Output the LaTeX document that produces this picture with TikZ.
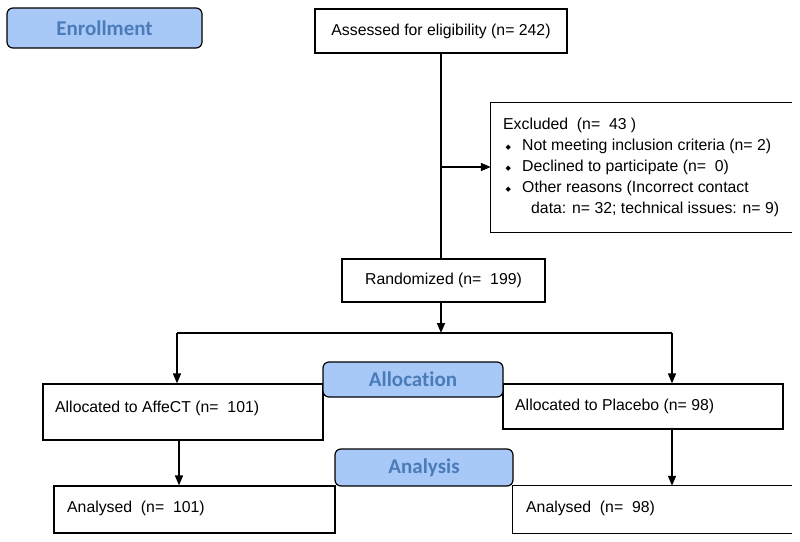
\documentclass[tikz,border=0pt]{standalone}
\usepackage{fontspec}
\setmainfont{Liberation Sans}
\newfontfamily\hdrfont[Ligatures=NoCommon]{Carlito}
\newfontfamily\symfont{DejaVu Sans}
\usetikzlibrary{arrows.meta}
\definecolor{hdrfill}{RGB}{168,200,248}
\definecolor{hdrtext}{RGB}{74,124,186}
\newcommand{\bul}{\hspace*{1pt}\makebox[8pt]{\raisebox{1pt}{\symfont\fontsize{7}{7}\selectfont ◆}}\hspace*{10pt}}
\begin{document}
\begin{tikzpicture}[x=1pt,y=-1pt,
  box/.style={draw, line width=1.2pt, inner sep=0pt, font=\fontsize{15.8}{19}\selectfont},
  openbox/.style={draw=none, inner sep=0pt},
  txt/.style={inner sep=0pt, anchor=west, font=\fontsize{15.8}{19}\selectfont},
  hdr/.style={draw, line width=1.2pt, rounded corners=6pt, fill=hdrfill, text=hdrtext, inner sep=0pt,
    font=\hdrfont\bfseries\fontsize{21}{24}\selectfont},
  conn/.style={line width=1.6pt},
  arr/.style={line width=1.6pt, -{Triangle[length=10pt,width=8pt]}}]
\useasboundingbox (0,0) rectangle (800,541);

% boxes
\node[box, minimum width=252pt, minimum height=44pt] (assess) at (441,31) {Assessed for eligibility (n= 242)};
\node[openbox, minimum width=301pt, minimum height=129pt] (exc) at (641.5,167.5) {};
\draw[line width=1.2pt] (exc.north east) -- (exc.north west) -- (exc.south west) -- (exc.south east);
\node[txt, align=left, font=\fontsize{15.8}{21}\selectfont] (exctxt) at (503,167) {Excluded\ \ (n=\ \ 43 )\\
\bul Not meeting inclusion criteria (n= 2)\\
\bul Declined to participate (n=\ \ 0)\\
\bul Other reasons (Incorrect contact\\
\hspace*{28pt}data: n= 32; technical issues: n= 9)};

\node[box, minimum width=203pt, minimum height=43pt] (rand) at (443.5,280.5) {Randomized (n=\ \ 199)};

\node[box, minimum width=280pt, minimum height=56pt] (aff) at (183,412) {};
\node[txt] (afftxt) at (55,408) {Allocated to AffeCT (n=\ \ 101)};
\node[box, minimum width=280pt, minimum height=45pt] (plc) at (643,406.5) {};
\node[txt] (plctxt) at (515,406) {Allocated to Placebo (n= 98)};

\node[box, minimum width=281pt, minimum height=47pt] (an1) at (194.5,509.5) {};
\node[txt] (an1txt) at (67,508) {Analysed\ \ (n=\ \ 101)};
\node[openbox, minimum width=279pt, minimum height=47pt] (an2) at (652.5,509.5) {};
\draw[line width=1.2pt] (an2.north east) -- (an2.north west) -- (an2.south west) -- (an2.south east);
\node[txt] (an2txt) at (526,508) {Analysed\ \ (n=\ \ 98)};

% connectors
\coordinate (j1) at (441,167);
\draw[conn] (assess.south) -- (assess.south |- rand.north);
\draw[arr] (j1) -- (j1 -| exc.west);
\coordinate (split) at (441,333);
\coordinate (L) at (177,333);
\coordinate (R) at (672,333);
\draw[arr] (rand.south -| split) -- (split);
\draw[conn] (L) -- (R);
\draw[arr] (L) -- (L |- aff.north);
\draw[arr] (R) -- (R |- plc.north);
\coordinate (a1) at (179,440);
\coordinate (a2) at (672,429);
\draw[arr] (a1) -- (a1 |- an1.north);
\draw[arr] (a2) -- (a2 |- an2.north);

% headers
\node[hdr, minimum width=195pt, minimum height=40pt] (enr) at (104.5,28) {Enrollment};
\node[hdr, minimum width=180pt, minimum height=35pt] (alloc) at (413,379.5) {Allocation};
\node[hdr, minimum width=178pt, minimum height=37pt] (anal) at (424,467.5) {Analysis};
\end{tikzpicture}
\end{document}
